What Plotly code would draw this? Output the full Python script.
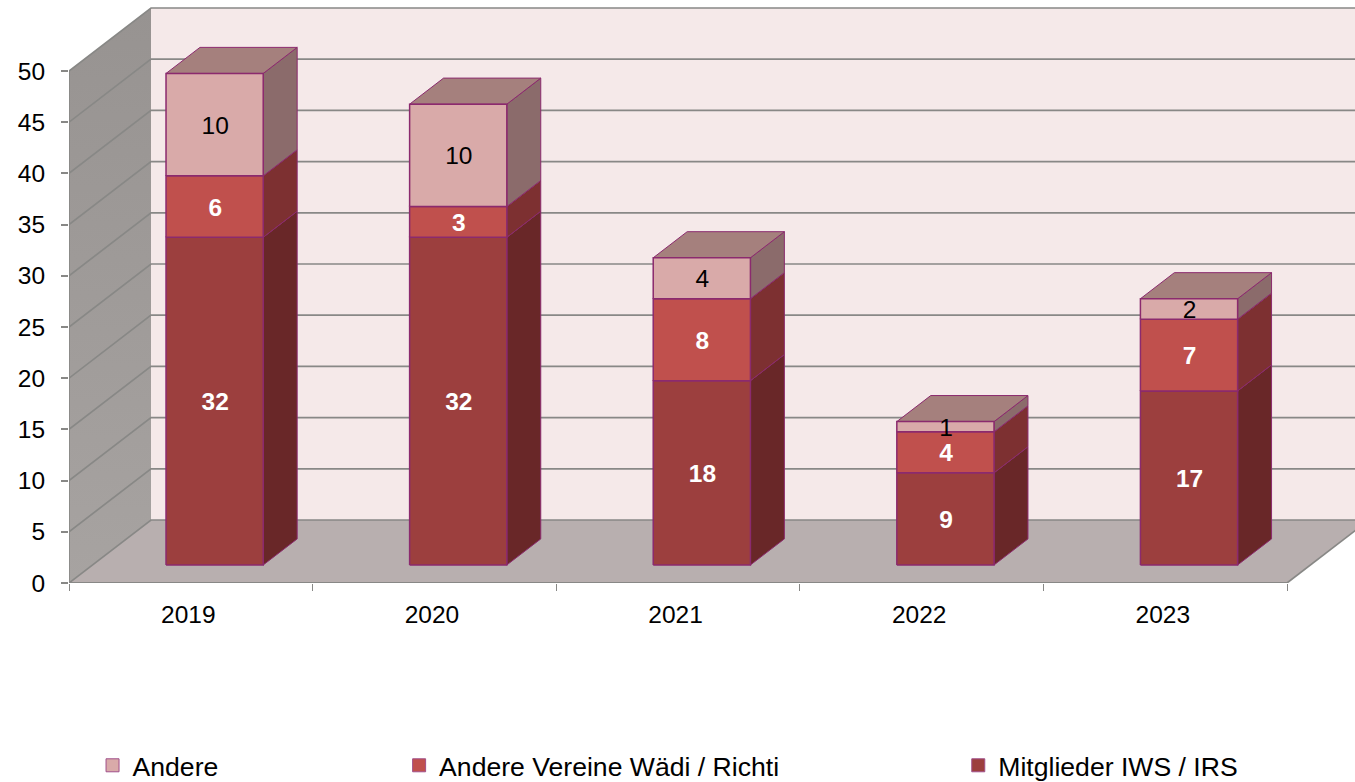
import plotly.graph_objects as go

# ---- data ----
years = ["2019", "2020", "2021", "2022", "2023"]
mitglieder = [32, 32, 18, 9, 17]
andere_vereine = [6, 3, 8, 4, 7]
andere = [10, 10, 4, 1, 2]
y_ticks = [0, 5, 10, 15, 20, 25, 30, 35, 40, 45, 50]

series = [
    dict(name="Mitglieder IWS / IRS", values=mitglieder, front="#9C3F3E", side="#692728",
         top="#6E2C2C", label="white", bold=True, legend="legend3", lx=0.6915),
    dict(name="Andere Vereine Wädi / Richti", values=andere_vereine, front="#C0504D", side="#7D3031",
         top="#8A3A38", label="white", bold=True, legend="legend2", lx=0.2567),
    dict(name="Andere", values=andere, front="#D9AAA9", side="#8B6B6B",
         top="#A5807D", label="black", bold=False, legend="legend", lx=0.0183),
]

# ---- layout constants (pseudo-3D projection) ----
W, H = 1355, 782
LEFT, BOTTOM = 69, 583
CAT_PX = 243.6
UNIT_PX = 10.24
DX = 82 / CAT_PX        # full depth in category units
DY = 63 / UNIT_PX       # full depth in value units
XMIN = -0.5
XMAX = XMIN + (W - LEFT) / CAT_PX
YMAX = BOTTOM / UNIT_PX
HALF_L, HALF_R = 0.198, 0.201
D0, D1 = 0.286, 0.70
GRID = "#888886"
EDGE = "#8B2A6E"
FONT = "Liberation Sans, Arial, sans-serif"
XEND = XMIN + len(years)
LABEL_NUDGE_Y = -0.28
LABEL_NUDGE_X = 0.004
LEGEND_Y = -(765.5 - BOTTOM) / BOTTOM


def poly(points, fill, line=None, width=1.5, gradient=None):
    xs = [p[0] for p in points] + [points[0][0]]
    ys = [p[1] for p in points] + [points[0][1]]
    kw = dict(fill="toself", fillcolor=fill)
    if gradient:
        kw = dict(fill="toself", fillgradient=gradient)
    fig.add_trace(go.Scatter(x=xs, y=ys, mode="lines",
                             line=dict(color=line or "rgba(0,0,0,0)", width=width),
                             hoverinfo="skip", showlegend=False, **kw))


def seg(points, color=GRID, width=1.7, clip=True):
    fig.add_trace(go.Scatter(x=[p[0] for p in points], y=[p[1] for p in points], mode="lines",
                             line=dict(color=color, width=width), hoverinfo="skip",
                             showlegend=False, cliponaxis=clip))


def P(x, v, d=0.0):
    return (x + d * DX, v + d * DY)


fig = go.Figure()

# walls and floor
poly([P(XMIN, 0, 1), P(XEND, 0, 1), P(XEND, 50, 1), P(XMIN, 50, 1)], "#F5E9E9")
poly([P(XMIN, 0), P(XMIN, 50), P(XMIN, 50, 1), P(XMIN, 0, 1)], "#9C9896",
     gradient=dict(type="vertical", colorscale=[[0, "#A7A3A1"], [1, "#979391"]]))
poly([P(XMIN, 0), P(XEND, 0), P(XEND, 0, 1), P(XMIN, 0, 1)], "#B8AFAF")

# grid lines over walls
for t in y_ticks:
    seg([P(XMIN, t), P(XMIN, t, 1), P(XEND, t, 1)])
seg([P(XMIN, 0), P(XMIN, 50)], clip=False)
seg([P(XEND, 0), P(XEND, 0, 1)])
seg([P(XMIN, 0), P(XEND, 0)], width=2, clip=False)

# bars
label_x, label_y, label_t = {}, {}, {}
for c in range(len(years)):
    base = 0
    for s_i, s in enumerate(series):
        v = s["values"][c]
        x0, x1 = c - HALF_L, c + HALF_R
        lo, hi = base, base + v
        poly([P(x1, lo, D0), P(x1, lo, D1), P(x1, hi, D1), P(x1, hi, D0)], s["side"], EDGE, 1)
        if s_i == len(series) - 1:
            poly([P(x0, hi, D0), P(x1, hi, D0), P(x1, hi, D1), P(x0, hi, D1)], s["top"], EDGE, 1)
        poly([P(x0, lo, D0), P(x1, lo, D0), P(x1, hi, D0), P(x0, hi, D0)], s["front"], EDGE, 1.5)
        lx, ly = P(c, (lo + hi) / 2, D0)
        label_x.setdefault(s_i, []).append(lx + LABEL_NUDGE_X)
        label_y.setdefault(s_i, []).append(ly + LABEL_NUDGE_Y)
        label_t.setdefault(s_i, []).append(str(v))
        base = hi

# data labels
for s_i, s in enumerate(series):
    txt = [f"<b>{t}</b>" if s["bold"] else t for t in label_t[s_i]]
    fig.add_trace(go.Scatter(x=label_x[s_i], y=label_y[s_i], mode="text", text=txt,
                             textposition="middle center",
                             textfont=dict(family=FONT, size=24.5, color=s["label"]),
                             hoverinfo="skip", showlegend=False))

# legend entries
legend_layout = {}
for s in series:
    fig.add_trace(go.Scatter(x=[None], y=[None], mode="markers", name=s["name"], legend=s["legend"],
                             marker=dict(symbol="square", size=13, color=s["front"],
                                         line=dict(color="#A0508A", width=1)),
                             showlegend=True))
    legend_layout[s["legend"]] = dict(x=s["lx"], y=LEGEND_Y, xanchor="left", yanchor="middle",
                                      bgcolor="rgba(0,0,0,0)", itemclick=False, itemdoubleclick=False,
                                      font=dict(family=FONT, size=26.6, color="black"),
                                      itemwidth=30, borderwidth=0)

fig.update_layout(
    width=W, height=H, autosize=False,
    margin=dict(l=LEFT, r=0, t=0, b=H - BOTTOM, pad=0, autoexpand=False),
    paper_bgcolor="white", plot_bgcolor="white",
    showlegend=True,
    font=dict(family=FONT, size=24, color="black"),
    xaxis=dict(range=[XMIN, XMAX], tickmode="array", tickvals=[i - 0.01 for i in range(len(years))],
               ticktext=years,
               showgrid=False, zeroline=False, showline=False, ticks="", ticklabelstandoff=14,
               minor=dict(tickmode="array", tickvals=[XMIN + i for i in range(len(years) + 1)],
                          ticks="outside", ticklen=7, tickcolor=GRID, tickwidth=1, showgrid=False),
               tickfont=dict(family=FONT, size=24.5, color="black"), fixedrange=True),
    yaxis=dict(range=[0, YMAX], tickmode="array", tickvals=y_ticks,
               showgrid=False, zeroline=False, showline=False, ticks="outside", ticklen=7,
               tickcolor=GRID, tickwidth=1.5, ticklabelstandoff=11,
               tickfont=dict(family=FONT, size=24.5, color="black"), fixedrange=True),
    **legend_layout,
)

fig.write_html("out.html", config=dict(displayModeBar=False),
               post_script="document.body.style.margin='0';")
